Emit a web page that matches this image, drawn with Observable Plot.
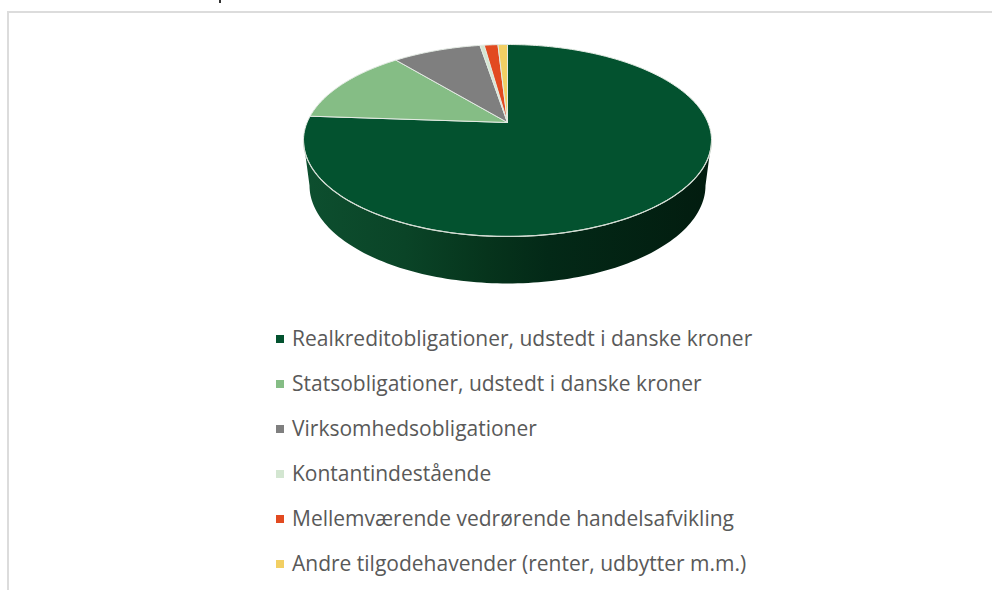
<!DOCTYPE html>
<html>
<head>
<meta charset="utf-8">
<script src="https://cdn.jsdelivr.net/npm/d3@7"></script>
<script src="https://cdn.jsdelivr.net/npm/@observablehq/plot@0.6"></script>
<style>
html,body{margin:0;padding:0;background:#fff;overflow:hidden}
#page{position:relative;width:992px;height:590px;overflow:hidden}
#frame{position:absolute;left:7px;top:11px;right:-4px;bottom:-4px;border:2px solid #dcdcdc;border-right:0;border-bottom:0}
#tick{position:absolute;left:219px;top:0;width:2px;height:3px;background:#333}
#chart{position:absolute;left:0;top:0}
#chart svg{display:block;background:none}
#legend{position:absolute;left:276px;top:316px;font-family:"Open Sans",sans-serif;font-size:21px;color:#595959}
.row{height:44.9px;display:flex;align-items:center;white-space:nowrap}
.sw{width:8px;height:8px;margin-right:8px;margin-top:2px;flex:none}
</style>
</head>
<body>
<div id="page"><div id="frame"></div><div id="tick"></div><div id="chart"></div><div id="legend"></div></div>
<script>
const categories = [
  "Realkreditobligationer, udstedt i danske kroner",
  "Statsobligationer, udstedt i danske kroner",
  "Virksomhedsobligationer",
  "Kontantindestående",
  "Mellemværende vedrørende handelsafvikling",
  "Andre tilgodehavender (renter, udbytter m.m.)"
];
const shares = [76.1, 12.9, 8.4, 0.4, 1.3, 0.9];
const colors = ["#03522f", "#85bd85", "#7f7f7f", "#d3e6d1", "#e24a20", "#f2cf63"];
const wallStops = [[0, "#0d4f2f"], [0.25, "#0a4427"], [0.45, "#06341c"], [0.6, "#032917"], [1, "#021c0f"]];

// Tilt of the 3-D pie and the lower rim of its side wall, in scale units
const tilt = 0.1875;
const rimBottom = {cx: 0, cy: -0.68, rx: 0.988, ry: 1.058};

const persp = (u, v) => [u / (1 + tilt * v), v / (1 + tilt * v)];
const arcs = d3.pie().sort(null)(shares);
const slices = [];
arcs.forEach((a, i) => {
  const n = Math.max(4, Math.ceil((a.endAngle - a.startAngle) * 60));
  slices.push({category: categories[i], x: 0, y: 0});
  for (let j = 0; j <= n; j++) {
    const t = a.startAngle + (a.endAngle - a.startAngle) * j / n;
    const [x, y] = persp(Math.sin(t), Math.cos(t));
    slices.push({category: categories[i], x, y});
  }
  slices.push({category: categories[i], x: 0, y: 0});
});

// front rim of the top face: from left extreme to right extreme, around the front
const sideAngle = Math.acos(-tilt);
const rim = [];
for (let j = 0; j <= 120; j++) {
  const t = -sideAngle + (-(2 * Math.PI - 2 * sideAngle)) * j / 120;
  const [x, y] = persp(Math.sin(t), Math.cos(t));
  rim.push({x, y});
}
const lower = [];
for (let j = 0; j <= 120; j++) {
  const t = Math.PI * j / 120;
  lower.push({x: rimBottom.cx + rimBottom.rx * Math.cos(t), y: rimBottom.cy - rimBottom.ry * Math.sin(t)});
}
const wall = [...rim, ...lower, rim[0]];

const defs = () => {
  const g = d3.create("svg:defs").append("linearGradient").attr("id", "wallGrad");
  wallStops.forEach(([o, c]) => g.append("stop").attr("offset", o).attr("stop-color", c));
  return g.node().parentNode;
};

const chart = Plot.plot({
  width: 992, height: 316,
  margin: 0,
  style: {background: "none"},
  x: {domain: [-1, 1], range: [306.6, 707.4], axis: null},
  y: {domain: [-1, 1], range: [214.6, 29.4], axis: null},
  color: {domain: categories, range: colors},
  marks: [
    defs,
    Plot.line(wall, {x: "x", y: "y", fill: "url(#wallGrad)", stroke: "none"}),
    Plot.line(slices, {x: "x", y: "y", z: "category", fill: "category", stroke: "#e4ebe4", strokeWidth: 1, strokeLinejoin: "round"}),
    Plot.line(rim, {x: "x", y: "y", stroke: "#d3dcd3", strokeWidth: 1.2})
  ]
});
document.getElementById("chart").append(chart);

const legend = d3.select("#legend");
categories.forEach((c, i) => {
  const r = legend.append("div").attr("class", "row");
  r.append("span").attr("class", "sw").style("background", colors[i]);
  r.append("span").text(c);
});
</script>
</body>
</html>
